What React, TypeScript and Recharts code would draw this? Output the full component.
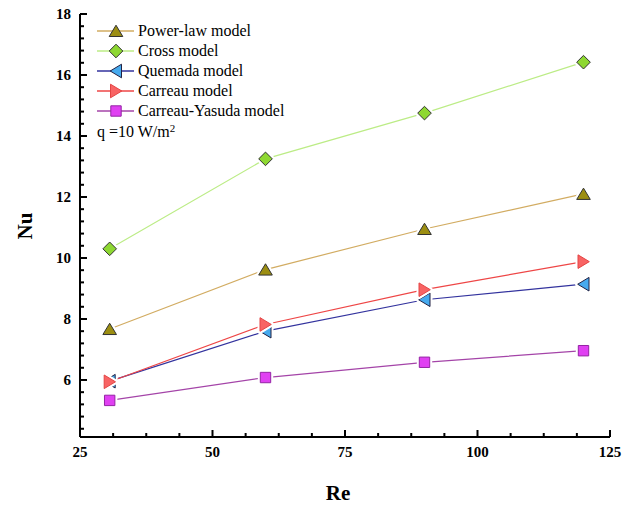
import React from 'react';
import { LineChart, Line, XAxis, YAxis } from 'recharts';

const reynolds = [30.6, 60, 90, 120];
const powerLaw = [7.67, 9.62, 10.95, 12.1];
const cross = [10.3, 13.25, 14.75, 16.42];
const quemada = [5.96, 7.6, 8.63, 9.14];
const carreau = [5.94, 7.82, 8.96, 9.88];
const carreauYasuda = [5.33, 6.08, 6.58, 6.96];

const xTicks = [25, 31.25, 37.5, 43.75, 50, 56.25, 62.5, 68.75, 75, 81.25, 87.5, 93.75, 100, 106.25, 112.5, 118.75, 125];
const xMajor = [25, 50, 75, 100, 125];
const yTicks = [4.4, 4.8, 5.2, 5.6, 6, 6.4, 6.8, 7.2, 7.6, 8, 8.4, 8.8, 9.2, 9.6, 10, 10.4, 10.8, 11.2, 11.6, 12, 12.4, 12.8, 13.2, 13.6, 14, 14.4, 14.8, 15.2, 15.6, 16, 16.4, 16.8, 17.2, 17.6, 18];
const yMajor = [6, 8, 10, 12, 14, 16, 18];

const data = reynolds.map((re, i) => ({
  re,
  powerLaw: powerLaw[i],
  cross: cross[i],
  quemada: quemada[i],
  carreau: carreau[i],
  carreauYasuda: carreauYasuda[i],
}));

type Shape = 'up' | 'diamond' | 'left' | 'right' | 'square';

const series: { key: string; name: string; line: string; fill: string; stroke: string; shape: Shape }[] = [
  { key: 'powerLaw', name: 'Power-law model', line: '#D2AC62', fill: '#9C8E12', stroke: '#333333', shape: 'up' },
  { key: 'cross', name: 'Cross model', line: '#BCEC86', fill: '#8ED832', stroke: '#333333', shape: 'diamond' },
  { key: 'quemada', name: 'Quemada model', line: '#33339E', fill: '#46AAEE', stroke: '#222244', shape: 'left' },
  { key: 'carreau', name: 'Carreau model', line: '#EE4646', fill: '#F86464', stroke: '#E44444', shape: 'right' },
  { key: 'carreauYasuda', name: 'Carreau-Yasuda model', line: '#A444A8', fill: '#E040F2', stroke: '#9424A4', shape: 'square' },
];

const FONT = '"Liberation Serif", "Times New Roman", serif';

function shapePath(shape: Shape, cx: number, cy: number): string {
  switch (shape) {
    case 'up':
      return `M${cx},${cy - 5.8}L${cx + 6.8},${cy + 5.5}L${cx - 6.8},${cy + 5.5}Z`;
    case 'diamond':
      return `M${cx},${cy - 6.8}L${cx + 6.8},${cy}L${cx},${cy + 6.8}L${cx - 6.8},${cy}Z`;
    case 'left':
      return `M${cx - 5.8},${cy}L${cx + 5.5},${cy - 6.8}L${cx + 5.5},${cy + 6.8}Z`;
    case 'right':
      return `M${cx + 5.8},${cy}L${cx - 5.5},${cy - 6.8}L${cx - 5.5},${cy + 6.8}Z`;
    default:
      return `M${cx - 5.2},${cy - 5.2}L${cx + 5.2},${cy - 5.2}L${cx + 5.2},${cy + 5.2}L${cx - 5.2},${cy + 5.2}Z`;
  }
}

const makeDot = (s: typeof series[number]) => (props: any) => {
  const { cx, cy, index } = props;
  if (cx == null || cy == null) return <g key={`d-${s.key}-${index}`} />;
  const d = shapePath(s.shape, cx, cy);
  return (
    <g key={`d-${s.key}-${index}`}>
      <path d={d} fill="#ffffff" stroke="#ffffff" strokeWidth={5} strokeLinejoin="round" />
      <path d={d} fill={s.fill} stroke={s.stroke} strokeWidth={1} />
    </g>
  );
};

const XTick = (props: any) => {
  const { x, y, payload } = props;
  const v = payload.value;
  const major = xMajor.some((m) => Math.abs(m - v) < 1e-6);
  return (
    <g>
      <line x1={x} x2={x} y1={y} y2={y - (major ? 7 : 4)} stroke="#000" strokeWidth={2} />
      {major && (
        <text x={x} y={y + 20} textAnchor="middle" fontFamily={FONT} fontWeight="bold" fontSize={15} fill="#000">
          {v}
        </text>
      )}
    </g>
  );
};

const YTick = (props: any) => {
  const { x, y, payload } = props;
  const v = payload.value;
  const major = yMajor.some((m) => Math.abs(m - v) < 1e-6);
  return (
    <g>
      <line x1={x} x2={x + (major ? 7 : 4)} y1={y} y2={y} stroke="#000" strokeWidth={2} />
      {major && (
        <text x={x - 9} y={y + 5} textAnchor="end" fontFamily={FONT} fontWeight="bold" fontSize={15} fill="#000">
          {v}
        </text>
      )}
    </g>
  );
};

const LegendBox = () => (
  <div
    style={{
      position: 'absolute',
      left: 97,
      top: 21,
      fontFamily: FONT,
      fontSize: 16,
      color: '#000',
      lineHeight: '20px',
    }}
  >
    {series.map((s) => (
      <div key={s.key} style={{ display: 'flex', alignItems: 'center', height: 20 }}>
        <svg width={40} height={20} style={{ display: 'block' }}>
          <line x1={0} x2={37} y1={10} y2={10} stroke={s.line} strokeWidth={1.6} />
          <path d={shapePath(s.shape, 19, 10)} fill={s.fill} stroke={s.stroke} strokeWidth={1} />
        </svg>
        <span style={{ marginLeft: 1, whiteSpace: 'nowrap' }}>{s.name}</span>
      </div>
    ))}
    <div style={{ height: 22, marginTop: 1, whiteSpace: 'nowrap' }}>
      q =10 W/m<sup style={{ fontSize: 11, verticalAlign: 'top', lineHeight: '12px' }}>2</sup>
    </div>
  </div>
);

export default function App() {
  return (
    <div style={{ position: 'absolute', left: 0, top: 0, width: 635, height: 507, background: '#fff' }}>
      <LineChart
        width={635}
        height={507}
        data={data}
        margin={{ top: 14, right: 25, bottom: 40, left: 20 }}
      >
        <XAxis
          dataKey="re"
          type="number"
          domain={[25, 125]}
          ticks={xTicks}
          interval={0}
          tickSize={0}
          tickMargin={0}
          tickLine={false}
          axisLine={{ stroke: '#000', strokeWidth: 2 }}
          tick={<XTick />}
          height={30}
        />
        <YAxis
          type="number"
          domain={[4.13, 18]}
          ticks={yTicks}
          interval={0}
          allowDataOverflow
          tickSize={0}
          tickMargin={0}
          tickLine={false}
          axisLine={{ stroke: '#000', strokeWidth: 2 }}
          tick={<YTick />}
          width={60}
        />
        {series.map((s) => (
          <Line
            key={s.key}
            dataKey={s.key}
            name={s.name}
            stroke={s.line}
            strokeWidth={1.2}
            dot={makeDot(s)}
            activeDot={false}
            isAnimationActive={false}
          />
        ))}
      </LineChart>
      <LegendBox />
      <div
        style={{
          position: 'absolute',
          left: 25,
          top: 226,
          transform: 'translate(-50%, -50%) rotate(-90deg)',
          fontFamily: FONT,
          fontWeight: 'bold',
          fontSize: 21,
        }}
      >
        Nu
      </div>
      <div
        style={{
          position: 'absolute',
          left: 338,
          top: 493,
          transform: 'translate(-50%, -50%)',
          fontFamily: FONT,
          fontWeight: 'bold',
          fontSize: 21,
        }}
      >
        Re
      </div>
    </div>
  );
}
